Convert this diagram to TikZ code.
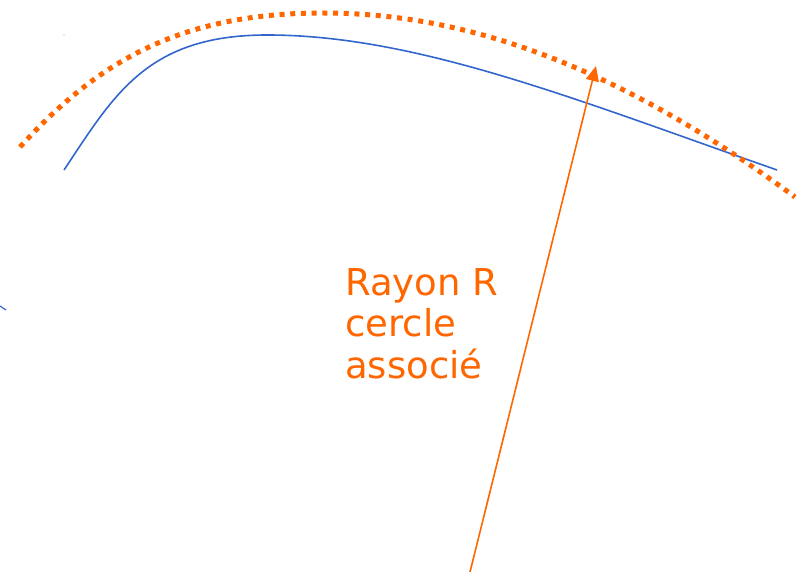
\documentclass[tikz,border=0pt]{standalone}
\usepackage{fontspec}
\setmainfont{DejaVu Sans}
\usetikzlibrary{arrows.meta, positioning}
\definecolor{orangeline}{HTML}{FF6600}
\definecolor{bluecurve}{HTML}{3366CC}

\begin{document}
\begin{tikzpicture}[x=1pt, y=-1pt, >={Triangle[length=15pt, width=13pt]}]
    \useasboundingbox (0,0) rectangle (809,572);

    % courbe
    \draw[bluecurve, line width=1.6pt] (64,170) .. controls (114,95) and (147,35) .. (267,35)
        .. controls (417,35) and (577,100) .. (777,170);
    \draw[bluecurve, line width=1.2pt] (0,306) -- (6,310);
    \fill[bluecurve!60] (64,35) circle (0.6pt);

    % cercle associe
    \draw[orangeline, line width=5pt, dash pattern=on 5pt off 5.7pt]
        (20,147) .. controls (100,59) and (183,13) .. (323,13)
        .. controls (443,13) and (595,49) .. (795,197);

    % rayon
    \coordinate (foot) at (470,572);
    \coordinate (tip) at (596,66);
    \draw[->, orangeline, line width=1.6pt] (foot) -- (tip);
    \node[anchor=base west, inner sep=0pt, align=left, text=orangeline,
          font=\fontsize{37}{41.5}\selectfont] (label) at (345,378) {Rayon R\\cercle\\associé};
\end{tikzpicture}
\end{document}
